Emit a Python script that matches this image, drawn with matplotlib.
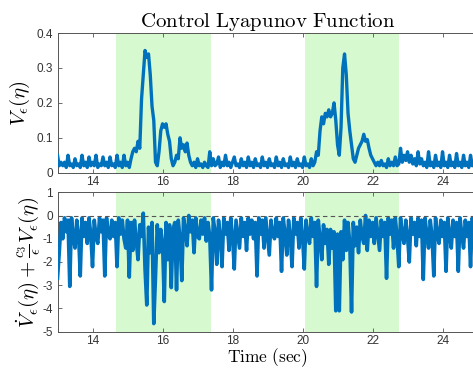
import numpy as np
import matplotlib
matplotlib.use("Agg")
import matplotlib.pyplot as plt

plt.rcParams['mathtext.fontset'] = 'cm'
plt.rcParams['font.family'] = ['Liberation Sans', 'DejaVu Sans']
plt.rcParams['axes.unicode_minus'] = False

# sample spacing of the recorded signals (sec)
t0 = 13.0
dt = 0.05

# V_eps(eta), one value every 0.05 s from t=13
v_eps = [
    0.05, 0.02, 0.03, 0.02, 0.03, 0.015, 0.05, 0.02, 0.025, 0.015, 0.04, 0.02, 0.025, 0.015, 0.05, 0.02, 0.03, 0.015, 0.045, 0.02,
    0.03, 0.02, 0.05, 0.015, 0.025, 0.02, 0.045, 0.02, 0.03, 0.015, 0.045, 0.02, 0.025, 0.015, 0.05, 0.02, 0.03, 0.015, 0.05, 0.02,
    0.03, 0.015, 0.04, 0.06, 0.07, 0.06, 0.09, 0.07, 0.21, 0.28, 0.35, 0.33, 0.34, 0.28, 0.19, 0.15, 0.03, 0.02, 0.06, 0.12,
    0.14, 0.13, 0.14, 0.11, 0.09, 0.04, 0.02, 0.03, 0.05, 0.04, 0.10, 0.07, 0.08, 0.06, 0.085, 0.05, 0.03, 0.02, 0.03, 0.015,
    0.04, 0.02, 0.025, 0.015, 0.03, 0.02, 0.015, 0.06, 0.02, 0.04, 0.02, 0.025, 0.045, 0.015, 0.03, 0.02, 0.05, 0.02, 0.03, 0.015,
    0.03, 0.045, 0.02, 0.025, 0.015, 0.04, 0.02, 0.03, 0.015, 0.045, 0.02, 0.03, 0.015, 0.04, 0.02, 0.025, 0.015, 0.045, 0.02, 0.03,
    0.015, 0.04, 0.02, 0.025, 0.015, 0.045, 0.02, 0.03, 0.015, 0.04, 0.02, 0.025, 0.015, 0.045, 0.02, 0.03, 0.015, 0.04, 0.02, 0.025,
    0.015, 0.045, 0.02, 0.025, 0.015, 0.04, 0.02, 0.03, 0.06, 0.05, 0.12, 0.16, 0.14, 0.17, 0.16, 0.18, 0.16, 0.17, 0.20, 0.15,
    0.08, 0.05, 0.13, 0.30, 0.34, 0.28, 0.17, 0.12, 0.08, 0.04, 0.03, 0.05, 0.07, 0.08, 0.09, 0.11, 0.09, 0.095, 0.07, 0.05,
    0.04, 0.03, 0.02, 0.03, 0.02, 0.035, 0.02, 0.025, 0.015, 0.04, 0.02, 0.03, 0.02, 0.045, 0.02, 0.025, 0.07, 0.03, 0.05, 0.035,
    0.06, 0.03, 0.05, 0.025, 0.04, 0.02, 0.06, 0.025, 0.04, 0.02, 0.03, 0.015, 0.06, 0.02, 0.03, 0.015, 0.05, 0.02, 0.03, 0.015,
    0.06, 0.02, 0.03, 0.015, 0.05, 0.02, 0.03, 0.015, 0.055, 0.02, 0.03, 0.015, 0.05, 0.02, 0.03, 0.015, 0.05, 0.02, 0.03, 0.02,
    0.04,
]

# dV/dt + c3/eps V, same sampling
dv_cond = [
    -2.7, -1.6, -0.3, -1.0, -0.1, -0.7, -0.2, -3.05, -0.1, -0.9, -1.4, -0.2, -0.8, -2.6, -0.1, -0.9, -0.3, -1.2, -0.1, -0.8,
    -2.2, -0.2, -0.9, -1.2, -0.1, -0.7, -0.2, -2.6, -0.1, -0.8, -1.0, -0.2, -0.9, -0.3, -2.2, -0.1, -0.8, -0.2, -1.0, -1.4,
    -0.2, -2.65, -0.3, -1.5, -0.2, -1.1, -1.9, -0.4, -0.9, 0.1, -2.3, -3.85, -0.5, -1.6, -0.3, -4.65, -2.6, -0.4, -1.6, -0.6,
    -1.2, -3.7, -0.3, -1.9, -0.4, -3.1, -0.6, -0.3, -3.2, -0.2, -1.0, -2.8, -0.1, -0.6, -1.3, 0.0, -0.7, -0.2, -1.6, -0.1,
    -0.9, -1.0, -0.2, -0.8, -0.1, -1.1, -0.3, -0.9, -3.2, -0.1, -0.7, -2.1, -0.2, -0.9, -2.2, -0.1, -0.8, -0.3, -1.5, -0.1,
    -0.9, -2.3, -0.2, -0.8, -1.4, -0.1, -0.9, -0.3, -1.5, -0.1, -0.8, -0.2, -1.0, -0.3, -2.6, -0.1, -0.8, -0.2, -1.4, -0.1,
    -0.9, -1.7, -0.2, -0.8, -1.0, -0.1, -0.9, -0.3, -2.4, -0.1, -0.8, -1.7, -0.2, -0.9, -2.2, -0.1, -0.8, -0.3, -1.4, -0.1,
    -0.9, -2.3, -0.2, -0.8, -1.2, -0.1, -0.9, -0.3, -3.05, -0.2, -1.0, -1.9, -0.4, -1.2, -0.6, -2.1, -0.6, -1.4, -0.7, -4.1,
    -0.8, -4.1, -0.7, -1.9, -0.2, -1.5, -0.3, -1.2, -4.15, -0.3, -1.3, -0.5, -1.6, -0.2, -0.9, -1.2, 0.0, -1.5, -0.2, -0.9,
    -0.3, -1.2, -0.1, -0.8, -1.5, -0.2, -0.9, -0.3, -2.7, -0.1, -0.8, -0.2, -1.4, -0.1, -0.9, -2.2, -0.1, -0.8, -1.2, -0.2,
    -0.9, -2.0, -0.1, -0.8, -0.3, -1.3, -0.1, -0.9, -0.2, -2.75, -0.1, -0.8, -1.4, -0.2, -0.9, -2.6, -0.1, -0.8, -1.2, -0.2,
    -0.9, -0.3, -2.4, -0.1, -0.8, -1.4, -0.2, -0.9, -0.3, -2.4, -0.1, -0.8, -1.4, -0.2, -0.9, -0.3, -2.2, -0.1, -0.8, -0.2,
    -1.0,
]

# highlighted time windows
windows = [(14.68, 17.38), (20.07, 22.76)]

xticks = [14, 16, 18, 20, 22, 24]
yticks_top = [0, 0.1, 0.2, 0.3, 0.4]
yticks_bot = [-5, -4, -3, -2, -1, 0, 1]

t_top = t0 + dt * np.arange(len(v_eps))
t_bot = t0 + dt * np.arange(len(dv_cond))

blue = '#0072BD'
shade = '#d6f9d0'
axcol = '#555555'

fig = plt.figure(figsize=(4.73, 3.70), dpi=100)
ax1 = fig.add_axes([0.1216, 0.5332, 0.888, 0.3776])
ax2 = fig.add_axes([0.1216, 0.1035, 0.888, 0.3768])

for ax in (ax1, ax2):
    for a, b in windows:
        ax.axvspan(a, b, color=shade, lw=0, zorder=0)
    ax.set_xlim(13, 25)
    ax.set_xticks(xticks)
    ax.tick_params(direction='in', length=3, width=0.6, colors=axcol,
                   labelcolor='#333333', labelsize=8.5, top=True, right=True)
    ax.tick_params(axis='x', pad=2.5)
    for s in ax.spines.values():
        s.set_color(axcol)
        s.set_linewidth(0.7)

ax1.plot(t_top, v_eps, color=blue, lw=2.4, zorder=3)
ax1.set_ylim(0, 0.4)
ax1.set_yticks(yticks_top)
ax1.set_yticklabels(['0', '0.1', '0.2', '0.3', '0.4'])
ax1.set_ylabel(r'$V_\epsilon(\eta)$', fontsize=15, labelpad=3)
ax1.set_title(r'$\mathrm{Control\ Lyapunov\ Function}$', fontsize=15, pad=4)

ax2.plot(t_bot, dv_cond, color=blue, lw=2.6, zorder=3)
ax2.axhline(0, color='#555555', lw=0.8, ls=(0, (4, 3)), zorder=4)
ax2.set_ylim(-5, 1)
ax2.set_yticks(yticks_bot)
ax2.set_ylabel(r'$\dot{V}_\epsilon(\eta)+\frac{c_3}{\epsilon}V_\epsilon(\eta)$', fontsize=15, labelpad=1)

# x label placed by hand so it stays inside the canvas
fig.text(0.5656, 0.004, r'$\mathrm{Time\ (sec)}$', fontsize=12.5, ha='center', va='bottom')

fig.savefig('out.png', dpi=100)
